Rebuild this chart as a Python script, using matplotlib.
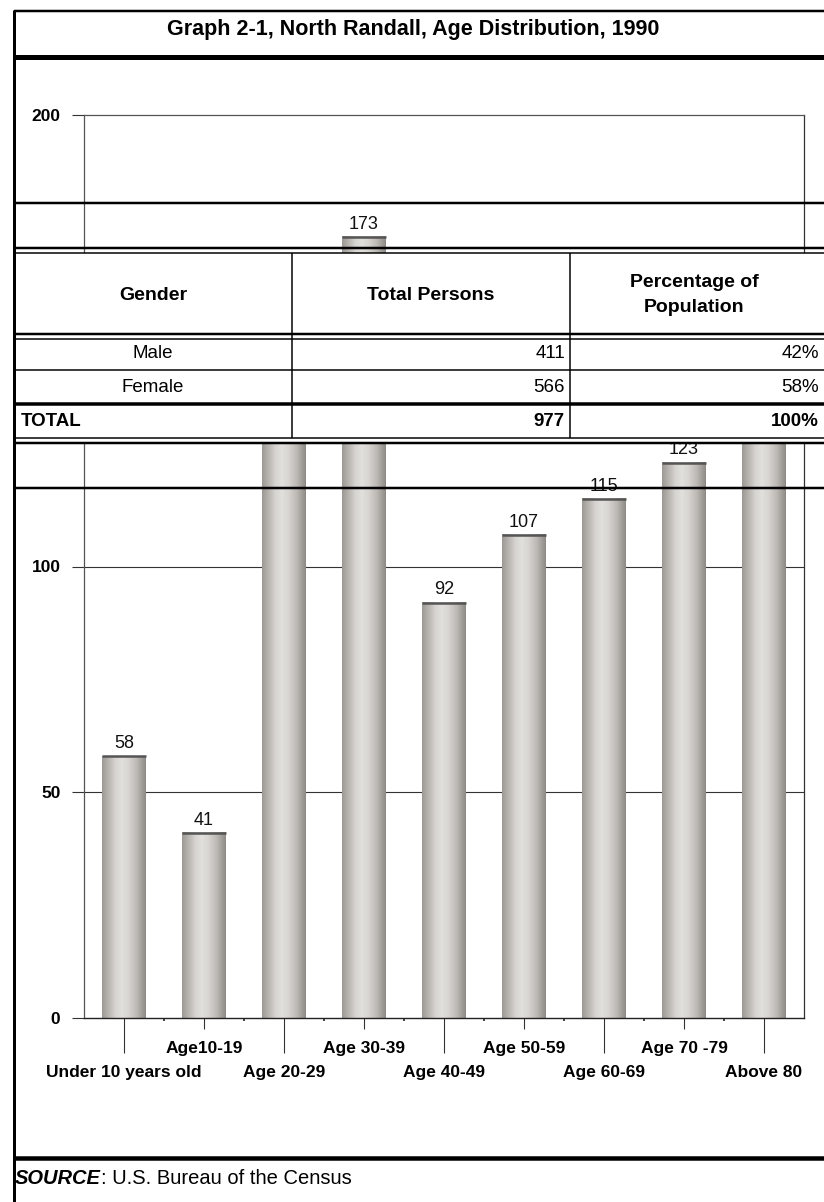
import numpy as np
import matplotlib
matplotlib.use("Agg")
import matplotlib.pyplot as plt
from matplotlib.colors import LinearSegmentedColormap

plt.rcParams['font.family'] = ['Liberation Sans', 'DejaVu Sans']

# age distribution (persons per age group)
age_groups = ["Under 10 years old", "Age10-19", "Age 20-29", "Age 30-39", "Age 40-49",
              "Age 50-59", "Age 60-69", "Age 70 -79", "Above 80"]
persons = [58, 41, 136, 173, 92, 107, 115, 123, 132]

# gender table
genders = ["Male", "Female"]
gender_counts = [411, 566]
gender_pct = [42, 58]
total_count = 977
total_pct = 100

title = "Graph 2-1, North Randall, Age Distribution, 1990"
yticks = [0, 50, 100, 150, 200]

W, H = 824, 1202
fig = plt.figure(figsize=(W / 100, H / 100), dpi=100)
fig.patch.set_facecolor("white")

# ---- bar chart ----
ax = fig.add_axes([84 / W, (H - 1018) / H, 720 / W, (1018 - 115) / H])
x = np.arange(len(age_groups))
bw = 0.55

# cylinder-ish shading across each bar
shade = LinearSegmentedColormap.from_list(
    "cyl", [(0.0, "#9c9894"), (0.12, "#b4b0ac"), (0.3, "#d6d3d0"), (0.45, "#e2e0dd"),
            (0.6, "#d8d5d2"), (0.8, "#bcb8b4"), (1.0, "#8e8a86")])
grad = np.linspace(0, 1, 64).reshape(1, -1)

bars = ax.bar(x, persons, bw, facecolor="none", edgecolor="none", zorder=2)
for b, v in zip(bars, persons):
    x0 = b.get_x()
    x1 = x0 + b.get_width()
    ax.imshow(grad, cmap=shade, extent=(x0, x1, 0, v), aspect="auto",
              interpolation="bilinear", zorder=2)
    ax.hlines(v, x0, x1, color="#555555", lw=1.8, zorder=3)
    ax.annotate(str(v), (x0 + b.get_width() / 2, v), xytext=(0, 3),
                textcoords="offset points", ha="center", va="bottom",
                fontsize=13, color="#111111", zorder=4)

ax.set_xlim(-0.5, len(age_groups) - 0.5)
ax.set_ylim(0, 200)
ax.set_yticks(yticks)
ax.set_yticklabels([str(t) for t in yticks], fontweight="bold", fontsize=12.5)
ax.tick_params(axis="y", direction="out", length=9, width=0.8, color="#333333", pad=8)
for t in yticks[1:-1]:
    ax.axhline(t, color="#333333", lw=0.8, zorder=1)

# staggered category labels
ax.set_xticks(x[::2])
ax.set_xticklabels(age_groups[::2], fontweight="bold", fontsize=12.5)
ax.set_xticks(x[1::2], minor=True)
ax.set_xticklabels(age_groups[1::2], minor=True, fontweight="bold", fontsize=12.5)
ax.tick_params(axis="x", which="major", direction="out", length=25, width=0.8,
               color="#333333", pad=8.5)
ax.tick_params(axis="x", which="minor", direction="out", length=8, width=0.8,
               color="#333333", pad=8.5)

# small marks between categories
sep = ax.secondary_xaxis("bottom")
sep.set_xticks(x[:-1] + 0.5)
sep.set_xticklabels([])
sep.tick_params(direction="out", length=2, width=1.2, color="#222222")
sep.spines["bottom"].set_visible(False)

for side in ("left", "top", "right"):
    ax.spines[side].set_color("#555555")
    ax.spines[side].set_linewidth(0.9)
ax.spines["right"].set_color("#333333")
ax.spines["bottom"].set_color("#222222")
ax.spines["bottom"].set_linewidth(1.0)

# ---- page frame, table and bands drawn in pixel space ----
ov = fig.add_axes([0, 0, 1, 1], zorder=5)
ov.set_xlim(0, W)
ov.set_ylim(H, 0)
ov.axis("off")
ov.patch.set_alpha(0)


def hline(y, lw, x0=14, x1=W):
    ov.plot([x0, x1], [y, y], color="black", lw=lw * 0.72, solid_capstyle="butt")


def vline(x, y0, y1, lw):
    ov.plot([x, x], [y0, y1], color="black", lw=lw * 0.72, solid_capstyle="butt")


# table background hides the chart underneath
ov.add_patch(plt.Rectangle((14, 253), W - 14, 443 - 253, facecolor="white",
                           edgecolor="none", zorder=0))

vline(14, 10, H, 3)
hline(11, 2.5)
hline(56.5, 5)
ov.text(413, 29, title, ha="center", va="center", fontsize=15.5, fontweight="bold")

# band above the table
hline(203, 2.5)
hline(248, 2.5)

# table grid
hline(253, 1.5)
hline(334, 2.5)
hline(339, 1.5)
hline(370, 1.5)
hline(404, 3.5)
hline(438, 1.5)
vline(292, 253, 438, 1.5)
vline(570, 253, 438, 1.5)

# band below the table
hline(443, 2.5)
hline(488, 2.5)

hfs = 14
ov.text(153, 295, "Gender", ha="center", va="center", fontsize=hfs, fontweight="bold")
ov.text(431, 295, "Total Persons", ha="center", va="center", fontsize=hfs, fontweight="bold")
ov.text(694, 295, "Percentage of\nPopulation", ha="center", va="center", fontsize=hfs,
        fontweight="bold", linespacing=1.6)

fs = 13.5
row_y = [354, 387]
for ry, g, n, p in zip(row_y, genders, gender_counts, gender_pct):
    ov.text(153, ry, g, ha="center", va="center", fontsize=fs)
    ov.text(565, ry, str(n), ha="right", va="center", fontsize=fs)
    ov.text(819, ry, f"{p}%", ha="right", va="center", fontsize=fs)
ov.text(21, 421, "TOTAL", ha="left", va="center", fontsize=fs, fontweight="bold")
ov.text(565, 421, str(total_count), ha="right", va="center", fontsize=fs, fontweight="bold")
ov.text(819, 421, f"{total_pct}%", ha="right", va="center", fontsize=fs, fontweight="bold")

# source line
hline(1158, 4.5)
src = ov.text(15, 1178, "SOURCE", ha="left", va="center", fontsize=14.5,
              fontweight="bold", fontstyle="italic")
ov.annotate(": U.S. Bureau of the Census", xy=(1, 0.5), xycoords=src,
            ha="left", va="center", fontsize=14.5)

fig.savefig("out.png", dpi=100, facecolor="white")
